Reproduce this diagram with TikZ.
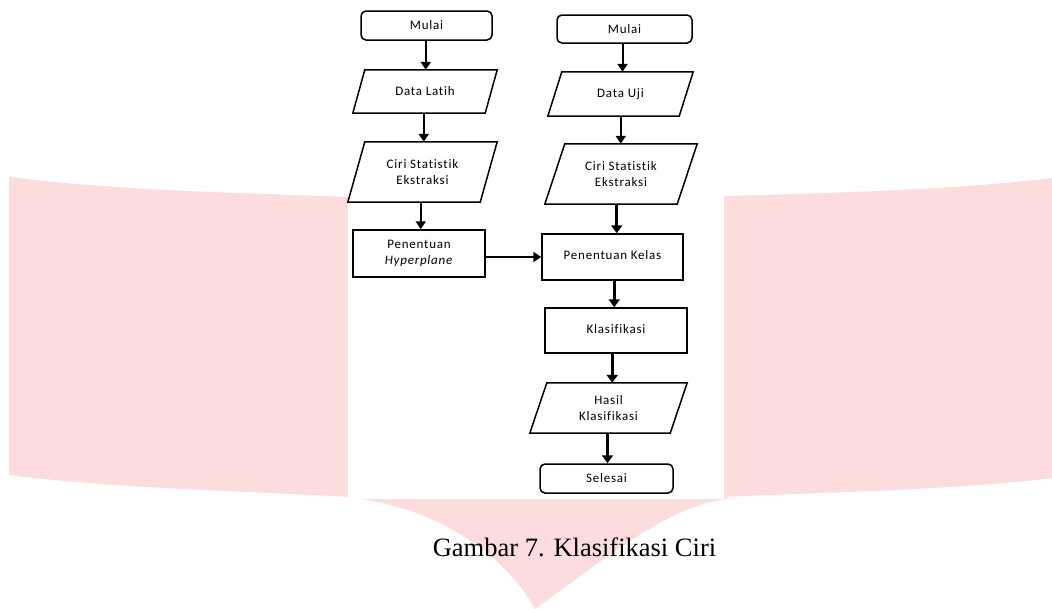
\documentclass[tikz,border=0pt]{standalone}
\usepackage{fontspec}
\setmainfont{Liberation Serif}
\newfontfamily\flowfont[LetterSpace=6,RawFeature={-liga;-clig}]{Carlito}
\usetikzlibrary{arrows.meta,calc}
\definecolor{bannerpink}{RGB}{253,220,222}
\tikzset{
  box/.style={draw, line width=1.5pt, font=\flowfont\fontsize{13}{16.5}\selectfont, align=center, inner sep=0pt},
  term/.style={box, rounded corners=5pt},
  proc/.style={box},
  io/.style={font=\flowfont\fontsize{13}{16.5}\selectfont, align=center, inner sep=0pt},
  paraline/.style={line width=1.5pt, line join=miter},
  arr/.style={line width=2pt, -{Triangle[length=8pt,width=10pt]}},
  thickarr/.style={line width=3pt, -{Triangle[length=8pt,width=11pt]}},
}
\newcommand\drawpara[2]{\draw[paraline] ([xshift=#2pt]#1.north west) -- ([xshift=#2pt]#1.north east) -- ([xshift=-#2pt]#1.south east) -- ([xshift=-#2pt]#1.south west) -- cycle;}
\newcommand\vlink[3]{\coordinate (mid-#1) at ($(#1.south)!.5!(#2.north)$); \draw[#3] (mid-#1 |- #1.south) -- (mid-#1 |- #2.north);}
\begin{document}
\begin{tikzpicture}[x=1pt,y=-1pt]
\useasboundingbox (0,0) rectangle (1052,608);
% background banner
\fill[bannerpink] (9,177) .. controls (120,191) and (250,193) .. (349,197) -- (349,497) .. controls (250,491) and (120,489) .. (9,475) -- cycle;
\fill[bannerpink] (723,196) .. controls (830,193) and (960,190) .. (1060,177) -- (1060,477) .. controls (960,490) and (830,492) .. (723,497) -- cycle;
\fill[bannerpink] (350,490) -- (350,498) -- (360,499) .. controls (440,510) and (505,555) .. (535,609) .. controls (610,555) and (670,505) .. (727,499) -- (727,490) -- cycle;
\fill[white] (348,0) rectangle (724,498.5);
% left column
\node[term, minimum width=131pt, minimum height=29pt] (m1) at (426.5,25.5) {Mulai};
\node[io, minimum width=132pt, minimum height=43pt] (d1) at (425,91.5) {Data Latih};
\drawpara{d1}{6}
\node[io, minimum width=132pt, minimum height=60pt] (c1) at (422.5,172) {Ciri Statistik\\Ekstraksi};
\drawpara{c1}{8.5}
\node[proc, minimum width=132pt, minimum height=47pt] (p1) at (419,253.5) {Penentuan\\\textit{Hyperplane}};
% right column
\node[term, minimum width=135pt, minimum height=28pt] (m2) at (624.5,29) {Mulai};
\node[io, minimum width=131pt, minimum height=44pt] (d2) at (620.5,94) {Data Uji};
\drawpara{d2}{7}
\node[io, minimum width=132pt, minimum height=60pt] (c2) at (621,174) {Ciri Statistik\\Ekstraksi};
\drawpara{c2}{10}
\node[proc, minimum width=141pt, minimum height=46pt] (k1) at (612.5,257) {\raisebox{4pt}{Penentuan Kelas}};
\node[proc, minimum width=142pt, minimum height=45pt] (k2) at (616,330.5) {\raisebox{4pt}{Klasifikasi}};
\node[io, minimum width=140pt, minimum height=50pt] (h2) at (608.5,408) {Hasil\\Klasifikasi};
\drawpara{h2}{8.5}
\node[term, minimum width=133pt, minimum height=29pt] (s2) at (606.5,478.5) {Selesai};
% connectors
\vlink{m1}{d1}{arr}
\vlink{d1}{c1}{arr}
\vlink{c1}{p1}{arr}
\vlink{m2}{d2}{arr}
\vlink{d2}{c2}{arr}
\vlink{c2}{k1}{thickarr}
\vlink{k1}{k2}{thickarr}
\vlink{k2}{h2}{thickarr}
\vlink{h2}{s2}{thickarr}
\draw[arr] (k1.west -| p1.east) -- (k1.west);
% caption
\node[anchor=base, inner sep=0pt, font=\fontsize{26.5}{30}\selectfont] (cap) at (574.5,556) {Gambar 7. Klasifikasi Ciri};
\end{tikzpicture}
\end{document}
